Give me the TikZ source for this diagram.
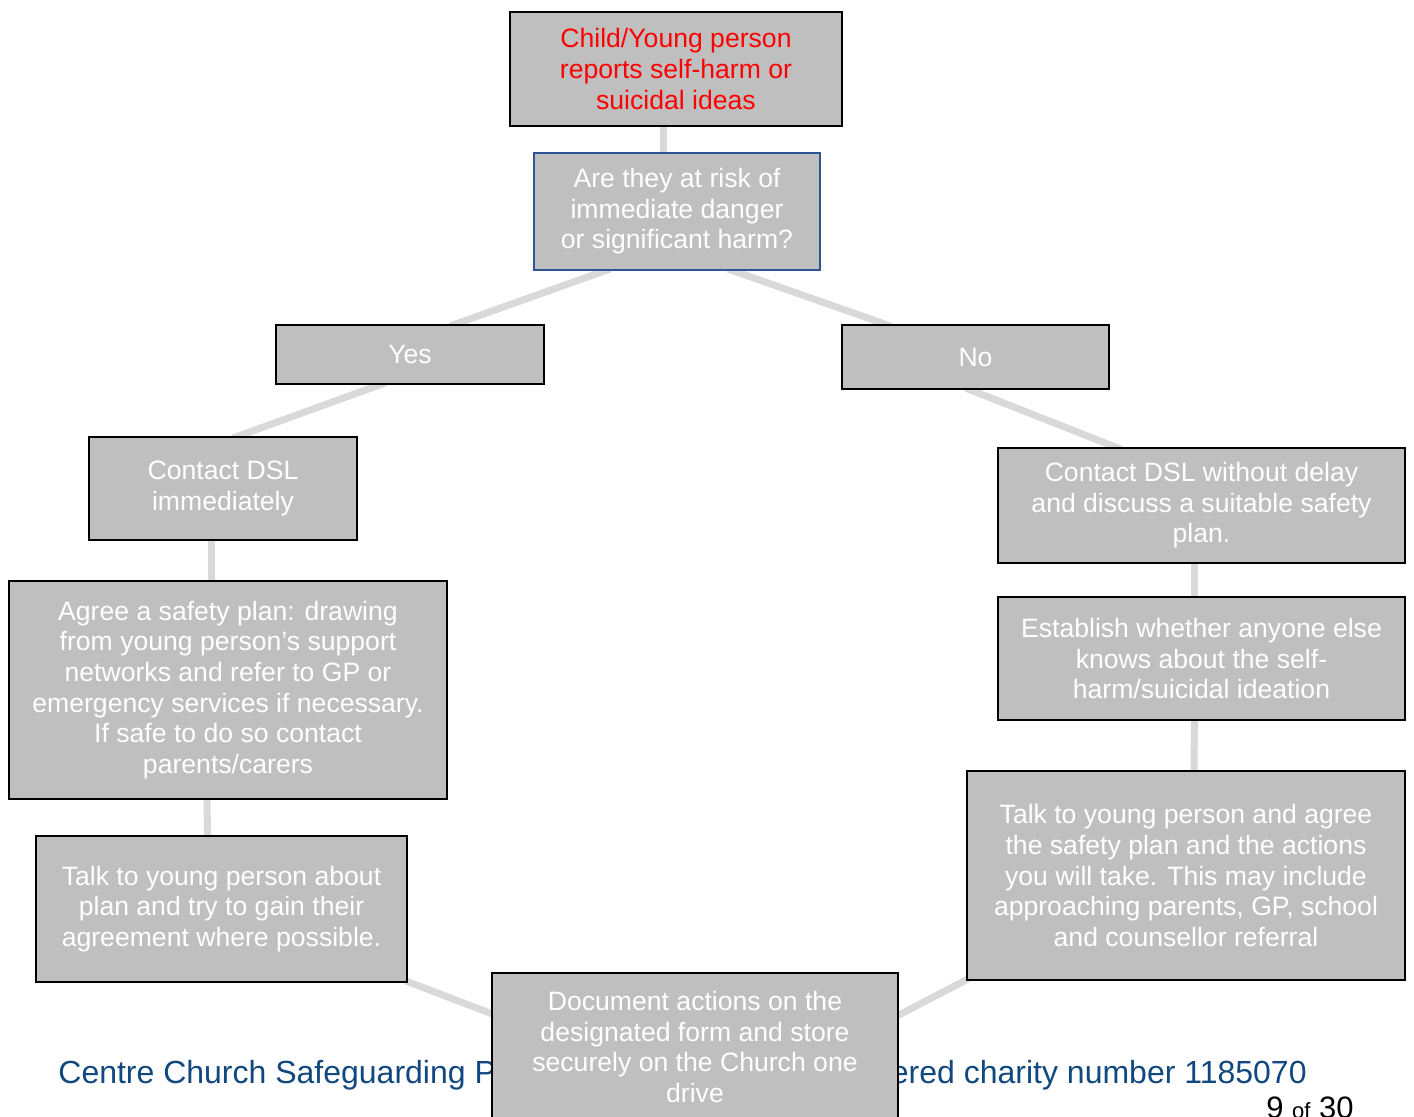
\documentclass[tikz,border=0pt]{standalone}
\usepackage{fontspec}
\setmainfont{Liberation Sans}
\usetikzlibrary{backgrounds,calc}
\definecolor{boxgrey}{RGB}{191,191,191}
\definecolor{linkgrey}{RGB}{217,217,217}
\definecolor{askblue}{RGB}{47,84,150}
\definecolor{footblue}{RGB}{18,72,128}

\begin{document}
\begin{tikzpicture}
    [
        x=0.5pt, y=-0.5pt,
        stage/.style={draw=black, line width=1pt, fill=boxgrey, text=white, align=center,
                      inner sep=0pt, font=\fontsize{13.3}{15.3}\selectfont},
        link/.style={linkgrey, line width=3.5pt},
        foot/.style={inner sep=0pt, text=footblue, font=\fontsize{16}{18}\selectfont}
    ]
        \useasboundingbox (0,0) rectangle (1414,1117);

        \node[foot, anchor=base west] (foot-l) at (58,1083) {Centre Church Safeguarding P};
        \node[foot, anchor=base east] (foot-r) at (1307,1083) {ered charity number 1185070};
        \node[inner sep=0pt, anchor=base east, font=\fontsize{15.5}{18}\selectfont] (page) at (1354,1118)
            {9 {\fontsize{11}{12}\selectfont of} 30};

        \node[stage, text=red, minimum width=166pt, minimum height=57pt] (s-top) at (676,69)
            {Child/Young person\\reports self-harm or\\suicidal ideas};
        \node[stage, draw=askblue, minimum width=143pt, minimum height=58.5pt] (s-ask) at (677,211.5)
            {Are they at risk of\\immediate danger\\or significant harm?};
        \node[stage, minimum width=134pt, minimum height=29.5pt] (s-yes) at (410,354.5) {Yes};
        \node[stage, minimum width=133.5pt, minimum height=32pt] (s-no) at (975.5,357) {No};

        \node[stage, minimum width=134pt, minimum height=51.5pt] (y-1) at (223,488.5)
            {Contact DSL\\immediately};
        \node[stage, minimum width=219pt, minimum height=109pt] (y-2) at (228,690)
            {Agree a safety plan: drawing\\from young person’s support\\networks and refer to GP or\\emergency services if necessary.\\If safe to do so contact\\parents/carers};
        \node[stage, minimum width=185.5pt, minimum height=73pt] (y-3) at (221.5,909)
            {Talk to young person about\\plan and try to gain their\\agreement where possible.};

        \node[stage, minimum width=203.5pt, minimum height=57.5pt] (n-1) at (1201.5,505.5)
            {Contact DSL without delay\\and discuss a suitable safety\\plan.};
        \node[stage, minimum width=203.5pt, minimum height=61.5pt] (n-2) at (1201.5,658.5)
            {Establish whether anyone else\\knows about the self-\\harm/suicidal ideation};
        \node[stage, minimum width=219pt, minimum height=104.5pt] (n-3) at (1186,875.5)
            {Talk to young person and agree\\the safety plan and the actions\\you will take. This may include\\approaching parents, GP, school\\and counsellor referral};

        \node[stage, minimum width=203pt, minimum height=74pt] (s-doc) at (695,1047)
            {Document actions on the\\designated form and store\\securely on the Church one\\drive};

        \begin{scope}[on background layer]
        \draw[link] ($(s-top.south)+(-13,-4)$) -- ($(s-ask.north)+(-14,4)$);
        \draw[link] ($(s-ask.south)+(-67,-2)$) -- ($(s-yes.north)+(40,2)$);
        \draw[link] ($(s-ask.south)+(51,-2)$) -- ($(s-no.north)+(-85,2)$);
        \draw[link] ($(s-yes.south)+(-25,-2)$) -- ($(y-1.north)+(10,2)$);
        \draw[link] ($(s-no.south)+(-10,-2)$) -- ($(n-1.north)+(-81,2)$);
        \draw[link] ($(y-1.south)+(-12,-4)$) -- ($(y-2.north)+(-17,4)$);
        \draw[link] ($(y-2.south)+(-21,-4)$) -- ($(y-3.north)+(-14,4)$);
        \draw[link] ($(n-1.south)+(-7,-4)$) -- ($(n-2.north)+(-7,4)$);
        \draw[link] ($(n-2.south)+(-7,-4)$) -- ($(n-3.north)+(8,4)$);
        \draw[link] ($(y-3.south east)+(-2,-2)$) -- ($(s-doc.west)+(4,-32)$);
        \draw[link] ($(n-3.south west)+(2,-2)$) -- ($(s-doc.east)+(-4,-30)$);
        \end{scope}

    \end{tikzpicture}
\end{document}
